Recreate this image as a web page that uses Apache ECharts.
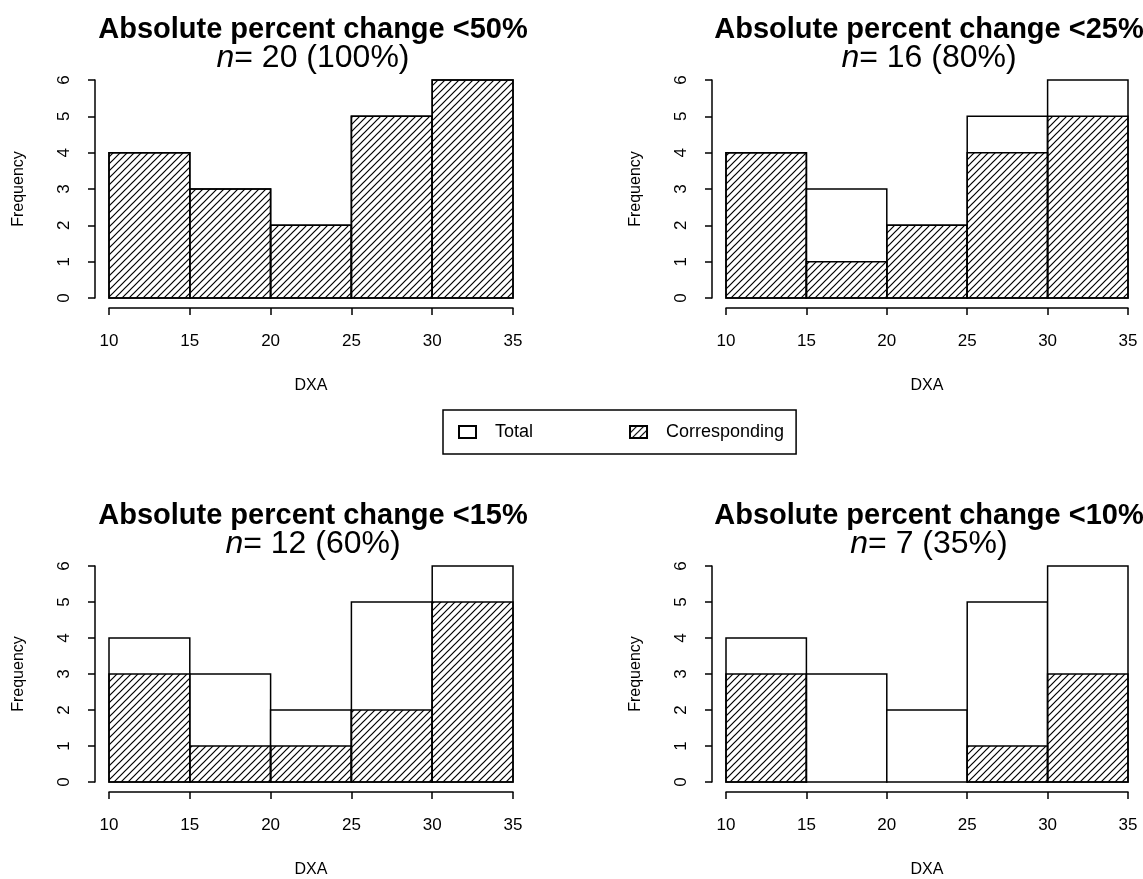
<!DOCTYPE html>
<html>
<head>
<meta charset="utf-8">
<script src="https://cdn.jsdelivr.net/npm/echarts@6/dist/echarts.min.js"></script>
<style>
  html, body { margin: 0; padding: 0; background: #fff; }
  #chart { width: 1143px; height: 879px; }
</style>
</head>
<body>
<div id="chart"></div>
<script>
// histogram bins (DXA)
const binEdges = [10, 15, 20, 25, 30, 35];
// total counts per bin, same in every panel
const totalCounts = [4, 3, 2, 5, 6];
// corresponding counts per bin for each threshold
const corr50 = [4, 3, 2, 5, 6];
const corr25 = [4, 1, 2, 4, 5];
const corr15 = [3, 1, 1, 2, 5];
const corr10 = [3, 0, 0, 1, 3];
const panelTitles = ['Absolute percent change <50%', 'Absolute percent change <25%',
                     'Absolute percent change <15%', 'Absolute percent change <10%'];
const nLabels = ['= 20 (100%)', '= 16 (80%)', '= 12 (60%)', '= 7 (35%)'];
const xTicks = [10, 15, 20, 25, 30, 35];
const yTicks = [0, 1, 2, 3, 4, 5, 6];

const FONT = '"Liberation Sans", Arial, Helvetica, sans-serif';

// diagonal hatch like R's density= fill
function makeHatch() {
    const s = 7;
    const c = document.createElement('canvas');
    c.width = s; c.height = s;
    const ctx = c.getContext('2d');
    ctx.strokeStyle = '#000';
    ctx.lineWidth = 1.2;
    ctx.beginPath();
    ctx.moveTo(-1, s + 1); ctx.lineTo(s + 1, -1);
    ctx.moveTo(-2, 2); ctx.lineTo(2, -2);
    ctx.moveTo(s - 2, s + 2); ctx.lineTo(s + 2, s - 2);
    ctx.stroke();
    return c;
}
const hatch = { image: makeHatch(), repeat: 'repeat' };

function toBins(counts) {
    return counts.map((v, i) => [binEdges[i], binEdges[i + 1], v]);
}

function renderBar(params, api) {
    const p0 = api.coord([api.value(0), 0]);
    const p1 = api.coord([api.value(1), api.value(2)]);
    return {
        type: 'rect',
        shape: { x: p0[0], y: p1[1], width: p1[0] - p0[0], height: p0[1] - p1[1] },
        style: api.style()
    };
}

const grids = [
    { left: 109, top: 80, width: 404, height: 218 },
    { left: 726, top: 80, width: 402, height: 218 },
    { left: 109, top: 566, width: 404, height: 218 },
    { left: 726, top: 566, width: 402, height: 218 }
];
const corrList = [corr50, corr25, corr15, corr10];

const axisLine = { show: true, onZero: false, lineStyle: { color: '#000', width: 1.5 } };
const axisTick = { show: true, length: 7, lineStyle: { color: '#000', width: 1.5 } };

const xAxes = [], yAxes = [], series = [], titles = [];
grids.forEach((g, i) => {
    xAxes.push({
        gridIndex: i, type: 'value', min: xTicks[0], max: xTicks[xTicks.length - 1], interval: 5,
        offset: 10, axisLine: axisLine, axisTick: axisTick, splitLine: { show: false },
        axisLabel: { color: '#000', fontSize: 17, fontFamily: FONT, margin: 25 },
        name: 'DXA', nameLocation: 'middle', nameGap: 70,
        nameTextStyle: { color: '#000', fontSize: 16, fontFamily: FONT }
    });
    yAxes.push({
        gridIndex: i, type: 'value', min: yTicks[0], max: yTicks[yTicks.length - 1], interval: 1,
        offset: 14, axisLine: axisLine, axisTick: axisTick, splitLine: { show: false },
        axisLabel: { color: '#000', fontSize: 17, fontFamily: FONT, rotate: 90, margin: 22 },
        name: 'Frequency', nameLocation: 'middle', nameGap: 68,
        nameTextStyle: { color: '#000', fontSize: 16, fontFamily: FONT }
    });
    series.push({
        name: 'Total', type: 'custom', xAxisIndex: i, yAxisIndex: i,
        renderItem: renderBar, encode: { x: [0, 1], y: 2 },
        itemStyle: { color: '#fff', borderColor: '#000', borderWidth: 1.5 },
        data: toBins(totalCounts)
    });
    series.push({
        name: 'Corresponding', type: 'custom', xAxisIndex: i, yAxisIndex: i,
        renderItem: renderBar, encode: { x: [0, 1], y: 2 },
        itemStyle: { color: hatch, borderColor: '#000', borderWidth: 1.5 },
        data: toBins(corrList[i]).filter(d => d[2] > 0)
    });
    titles.push({
        left: g.left + g.width / 2 - 3, top: g.top - 68, textAlign: 'center',
        text: '{b|' + panelTitles[i] + '}\n{i|n}{r|' + nLabels[i] + '}',
        textStyle: {
            rich: {
                b: { fontSize: 29, fontWeight: 'bold', fontFamily: FONT, color: '#000', lineHeight: 26 },
                i: { fontSize: 32, fontWeight: 'normal', fontStyle: 'italic', fontFamily: FONT, color: '#000', lineHeight: 30 },
                r: { fontSize: 32, fontWeight: 'normal', fontFamily: FONT, color: '#000', lineHeight: 30 }
            }
        }
    });
});

const chart = echarts.init(document.getElementById('chart'), null, { renderer: 'canvas' });
chart.setOption({
    backgroundColor: '#fff',
    animation: false,
    title: titles,
    grid: grids,
    xAxis: xAxes,
    yAxis: yAxes,
    legend: {
        left: 443, top: 410,
        padding: [13, 12, 13, 15],
        itemWidth: 17, itemHeight: 12, itemGap: 96,
        borderColor: '#000', borderWidth: 1.5,
        icon: 'rect',
        textStyle: { color: '#000', fontSize: 18, fontFamily: FONT, padding: [0, 0, 0, 14] },
        data: ['Total', 'Corresponding']
    },
    series: series
});
</script>
</body>
</html>
